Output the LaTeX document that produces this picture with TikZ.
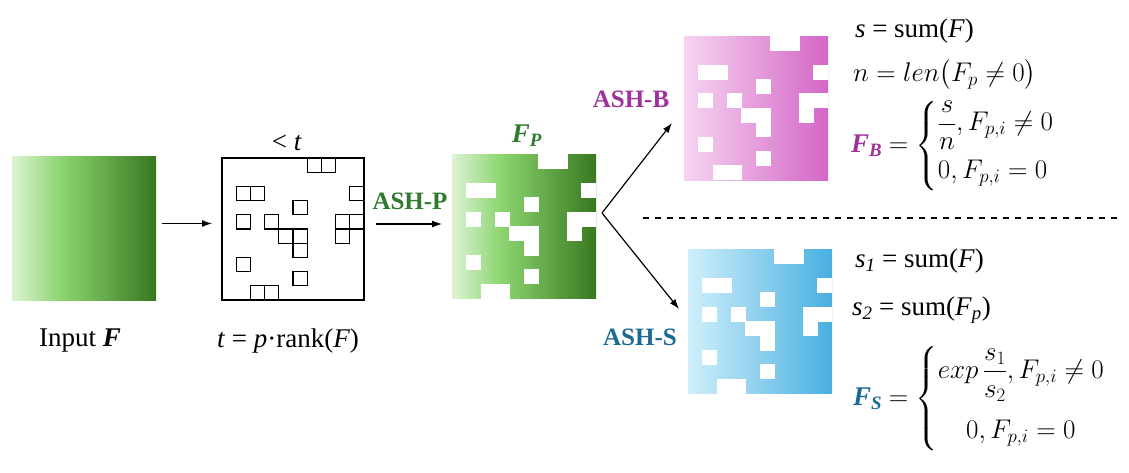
\RequirePackage{fix-cm}
\documentclass[tikz,border=0pt]{standalone}
\usepackage{amsmath}
\usepackage{fontspec}
\setmainfont{Liberation Serif}
\usetikzlibrary{arrows.meta,calc}

\definecolor{g1}{HTML}{DDF3D4}
\definecolor{g2}{HTML}{8CD570}
\definecolor{g3}{HTML}{387820}
\definecolor{p1}{HTML}{F6D4F1}
\definecolor{p2}{HTML}{D466C7}
\definecolor{b1}{HTML}{CFEFFB}
\definecolor{b2}{HTML}{48AFE0}
\definecolor{ashp}{HTML}{2E7A2E}
\definecolor{ashb}{HTML}{A0309C}
\definecolor{ashs}{HTML}{1B6A94}

\pgfdeclarehorizontalshading{greensh}{100bp}{color(0bp)=(g1); color(25bp)=(g1); color(42bp)=(g2); color(75bp)=(g3); color(100bp)=(g3)}
\pgfdeclarehorizontalshading{pinksh}{100bp}{color(0bp)=(p1); color(25bp)=(p1); color(75bp)=(p2); color(100bp)=(p2)}
\pgfdeclarehorizontalshading{bluesh}{100bp}{color(0bp)=(b1); color(25bp)=(b1); color(75bp)=(b2); color(100bp)=(b2)}

\newcommand{\holepattern}{6/0,7/0,1/2,2/2,9/2,5/3,1/4,3/4,8/4,9/4,4/5,5/5,8/5,5/6,1/7,5/8,2/9,3/9}
\newcommand{\punchholes}[2]{%
  \foreach \c/\r in \holepattern {%
    \fill[white] ($(#1.north west)+(\c*#2-0.3,\r*#2-0.3)$) rectangle ++(#2+0.6,#2+0.6);}}

\tikzset{
  every node/.style={font=\fontsize{27}{32}\selectfont, inner sep=0pt, outer sep=0pt},
  fmap/.style={minimum width=144pt, minimum height=144pt, draw=none},
  arr/.style={line width=1.2pt, -{Latex[length=10pt,width=7pt]}},
  ash/.style={font=\fontsize{25}{30}\selectfont\bfseries, anchor=base},
}

\begin{document}
\begin{tikzpicture}[x=1pt,y=-1pt]
\path[use as bounding box] (0,0) rectangle (1129,472);

% input
\node[fmap, shading=greensh] (in) at (84,228.5) {};
\node[anchor=base] (inlab) at (80,346) {Input \textbf{\textit{F}}};

% grid
\node[minimum width=142pt, minimum height=142pt, draw, line width=1.2pt] (grid) at (293,229) {};
\foreach \c/\r in \holepattern {
  \draw[line width=1.2pt] ($(grid.north west)+(\c*14.2,\r*14.2)$) rectangle ++(14.2,14.2);}
\node[anchor=base] (ltlab) at (287,150) {< \textit{t}};
\node[anchor=base] (tlab) at (288,347) {\textit{t} = \textit{p}·rank(\textit{F})};

% pruned
\node[fmap, shading=greensh] (pr) at (524,226.5) {};
\punchholes{pr}{14.4}
\node[anchor=base, text=ashp] (fplab) at (527,142) {\textbf{\textit{F}}$_{\textbf{\textit{P}}}$};

% pink
\node[fmap, shading=pinksh] (pk) at (756,108) {};
\punchholes{pk}{14.4}

% blue
\node[fmap, shading=bluesh] (bl) at (760,321.5) {};
\punchholes{bl}{14.4}

% labels
\node[ash, text=ashp] (ashp) at (410,209) {ASH-P};
\node[ash, text=ashb] (ashb) at (631,107) {ASH-B};
\node[ash, text=ashs] (ashs) at (640,345) {ASH-S};

% arrows
\draw[arr, shorten <=6pt, shorten >=10pt] ([yshift=5pt]in.east) -- ([yshift=5pt]in.east -| grid.west);
\draw[arr, shorten <=12pt, shorten >=10pt] ([yshift=5pt]grid.east) -- ([yshift=5pt]grid.east -| pr.west);
\coordinate (split) at ([xshift=6pt,yshift=13.5pt]pr.east);
\coordinate (tipB) at ([xshift=-12pt,yshift=-15pt]pk.west);
\coordinate (tipS) at ([xshift=-9pt,yshift=12.5pt]bl.west);
\draw[arr] (split) -- (tipB);
\draw[arr] (split) -- (tipS);

% dashed separator
\coordinate (dashL) at (643,218);
\coordinate (dashR) at (1117,218);
\draw[line width=1.3pt, dash pattern=on 6pt off 6pt] (dashL) -- (dashR);

% formulas top
\node[anchor=base west] (sform) at (855,37) {\textit{s} = sum(\textit{F})};
\node[anchor=base west] (nform) at (853,81) {$n = len\big(F_p \neq 0\big)$};
\node[anchor=west] (fbform) at (851,146) {{\color{ashb}\textbf{\textit{F}}$_{\textbf{\textit{B}}}$} $= \renewcommand\arraystretch{1.3}\left\{\begin{array}{@{}l@{}}\dfrac{s}{n}, F_{p,i} \neq 0\\ 0, F_{p,i} = 0\end{array}\right.$};

% formulas bottom
\node[anchor=base west] (s1form) at (855,267) {\textit{s}$_{\textit{1}}$ = sum(\textit{F})};
\node[anchor=base west] (s2form) at (852,315) {\textit{s}$_{\textit{2}}$ = sum(\textit{F}$_{\textit{p}}$)};
\node[anchor=west] (fsform) at (853,399) {{\color{ashs}\textbf{\textit{F}}$_{\textbf{\textit{S}}}$} $= \renewcommand\arraystretch{1.5}\left\{\begin{array}{@{}c@{}}exp\,\dfrac{s_1}{s_2}, F_{p,i} \neq 0\\[12pt] 0, F_{p,i} = 0\end{array}\right.$};
\end{tikzpicture}
\end{document}
